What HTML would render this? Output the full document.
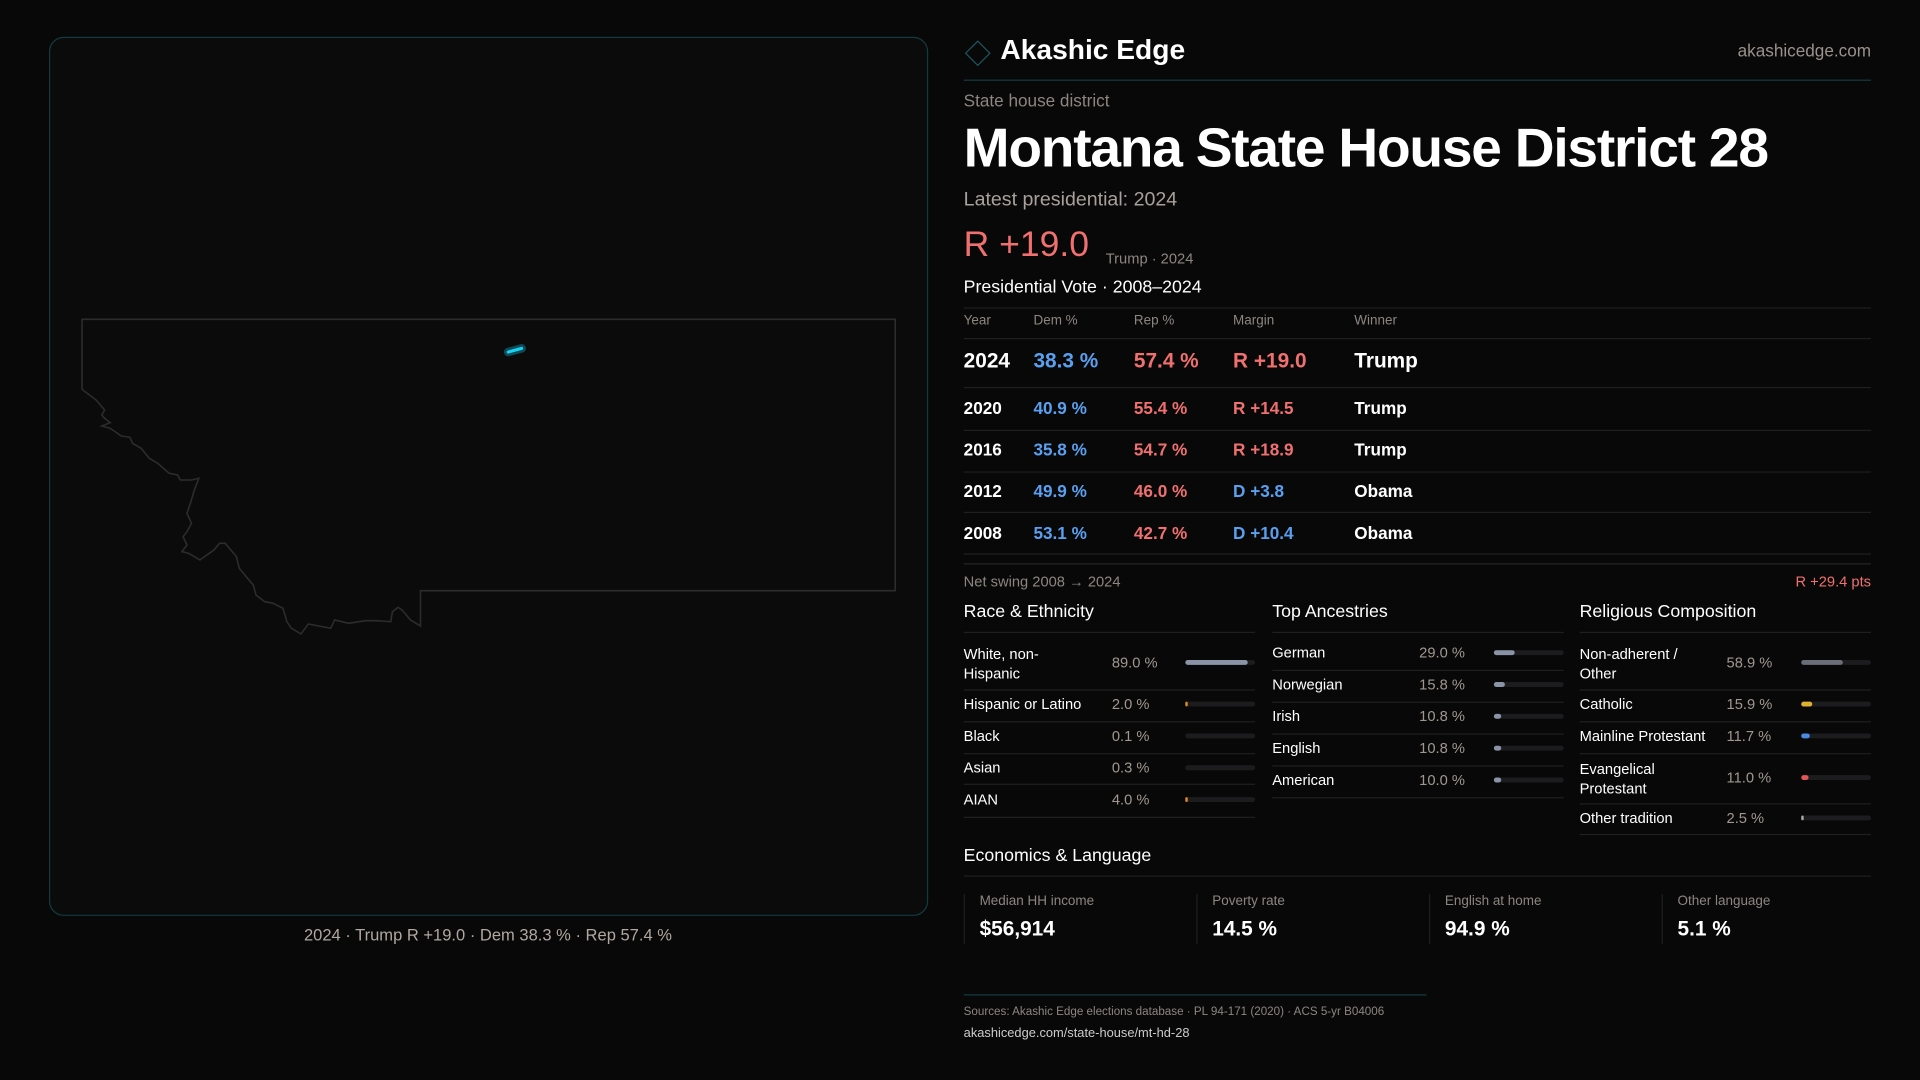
<!DOCTYPE html>
<html><head><meta charset="utf-8"><style>
html,body{margin:0;padding:0;background:#080808;width:1920px;height:1080px;overflow:hidden}
#w{position:absolute;left:0;top:0;width:1568px;height:882px;transform:scale(1.22449);transform-origin:0 0;font-family:"Liberation Sans",sans-serif;color:#eee}
.a{position:absolute;white-space:nowrap;line-height:1}
.g{color:#8d8680}
.b{color:#5aa0f0}.r{color:#f07070}
.ln{position:absolute;height:1px;background:#1f1f21}
.bar{position:absolute;height:4px;border-radius:2px;background:#1c1c1f}
.bar i{position:absolute;left:0;top:0;height:4px;border-radius:2px;display:block}
.t{font-weight:bold}
</style></head><body><div id="w">
<div style="position:absolute;left:40px;top:30px;width:716px;height:716px;border:1px solid #123a40;border-radius:12px;background:#0b0b0c"></div>
<svg style="position:absolute;left:0;top:0" width="760" height="760">
<path d="M67,260.8 L731.1,260.8 L731.1,482.4 L343.4,482.4 L343.4,511.2 L335.2,506.3 L328.3,498.1 L325.1,496 L320.5,499.5 L319.1,507.7 L307.6,506.9 L298.5,506.9 L284.7,509 L273.3,506.3 L270.1,513.1 L251.7,509.6 L245.8,517.7 L238,513.1 L234.3,507.7 L231.1,496.8 L222.9,492.7 L216,491.3 L209.1,485.9 L206.8,477.7 L202.2,472.3 L195.4,464.1 L193.1,454.6 L183.9,443.7 L179.3,443.7 L174.7,449.2 L163.3,457.3 L154.1,451.9 L148.6,450.5 L152.7,445 L149.5,438.3 L152.7,434.2 L156.4,427.4 L152.7,419.2 L155.5,411 L158.7,400.2 L162.4,390.6 L156.4,392 L147.2,392 L145,387.9 L138.1,386.5 L128.9,378.4 L122,374.3 L115.2,366.1 L108.3,362 L106,357.1 L99.1,356.1 L90,349.8 L83.1,347.9 L90,345.2 L85.4,341.6 L83.1,338.9 L85.4,334.8 L78.5,326.7 L67,318 Z" fill="none" stroke="#2c2c2e" stroke-width="1.3"/>
<line x1="415" y1="287.5" x2="426" y2="284.5" stroke="#0e4a55" stroke-width="7" stroke-linecap="round"/>
<line x1="415" y1="287.5" x2="426" y2="284.5" stroke="#18d0f0" stroke-width="2.5" stroke-linecap="round"/>
</svg>
<div class="a" style="left:0;width:797px;text-align:center;top:757px;font-size:13.5px;color:#b0a8a0">2024 · Trump R +19.0 · Dem 38.3 % · Rep 57.4 %</div>

<div style="position:absolute;left:791px;top:36px;width:13px;height:13px;border:1.5px solid #1d5560;transform:rotate(45deg)"></div>
<div class="a" style="left:817px;top:29px;font-size:23px;font-weight:bold;color:#fff">Akashic Edge</div>
<div class="a g" style="right:40px;top:34px;font-size:14px;color:#9a918a">akashicedge.com</div>
<div class="ln" style="left:787px;width:741px;top:65px;background:#153a40"></div>
<div class="a g" style="left:787px;top:75px;font-size:14px">State house district</div>
<div class="a" style="left:787px;top:98px;font-size:45px;font-weight:bold;color:#fff;letter-spacing:-1px">Montana State House District 28</div>
<div class="a" style="left:787px;top:156px;font-size:16px;color:#a8a09a">Latest presidential: 2024</div>
<div class="a r" style="left:787px;top:186px;font-size:29px">R +19.0</div>
<div class="a g" style="left:903px;top:205px;font-size:12px">Trump · 2024</div>
<div class="a" style="left:787px;top:228px;font-size:14.5px;color:#fff">Presidential Vote · 2008–2024</div>
<div class="ln" style="left:787px;width:741px;top:251px"></div>
<div class="a g" style="left:787px;top:257px;font-size:11px">Year</div>
<div class="a g" style="left:844px;top:257px;font-size:11px">Dem %</div>
<div class="a g" style="left:926px;top:257px;font-size:11px">Rep %</div>
<div class="a g" style="left:1007px;top:257px;font-size:11px">Margin</div>
<div class="a g" style="left:1106px;top:257px;font-size:11px">Winner</div>
<div class="ln" style="left:787px;width:741px;top:276px"></div>
<div class="a t" style="left:787px;top:286px;font-size:17px;color:#fff">2024</div>
<div class="a b t" style="left:844px;top:286px;font-size:17px">38.3 %</div>
<div class="a r t" style="left:926px;top:286px;font-size:17px">57.4 %</div>
<div class="a r t" style="left:1007px;top:286px;font-size:17px">R +19.0</div>
<div class="a t" style="left:1106px;top:286px;font-size:17px;color:#fff">Trump</div>
<div class="ln" style="left:787px;width:741px;top:316px"></div>
<div class="a t" style="left:787px;top:326px;font-size:14px;color:#fff">2020</div><div class="a b t" style="left:844px;top:326px;font-size:14px">40.9 %</div><div class="a r t" style="left:926px;top:326px;font-size:14px">55.4 %</div><div class="a r t" style="left:1007px;top:326px;font-size:14px">R +14.5</div><div class="a t" style="left:1106px;top:326px;font-size:14px;color:#fff">Trump</div>
<div class="ln" style="left:787px;width:741px;top:351px"></div>
<div class="a t" style="left:787px;top:360px;font-size:14px;color:#fff">2016</div><div class="a b t" style="left:844px;top:360px;font-size:14px">35.8 %</div><div class="a r t" style="left:926px;top:360px;font-size:14px">54.7 %</div><div class="a r t" style="left:1007px;top:360px;font-size:14px">R +18.9</div><div class="a t" style="left:1106px;top:360px;font-size:14px;color:#fff">Trump</div>
<div class="ln" style="left:787px;width:741px;top:385px"></div>
<div class="a t" style="left:787px;top:394px;font-size:14px;color:#fff">2012</div><div class="a b t" style="left:844px;top:394px;font-size:14px">49.9 %</div><div class="a r t" style="left:926px;top:394px;font-size:14px">46.0 %</div><div class="a b t" style="left:1007px;top:394px;font-size:14px">D +3.8</div><div class="a t" style="left:1106px;top:394px;font-size:14px;color:#fff">Obama</div>
<div class="ln" style="left:787px;width:741px;top:418px"></div>
<div class="a t" style="left:787px;top:428px;font-size:14px;color:#fff">2008</div><div class="a b t" style="left:844px;top:428px;font-size:14px">53.1 %</div><div class="a r t" style="left:926px;top:428px;font-size:14px">42.7 %</div><div class="a b t" style="left:1007px;top:428px;font-size:14px">D +10.4</div><div class="a t" style="left:1106px;top:428px;font-size:14px;color:#fff">Obama</div>
<div class="ln" style="left:787px;width:741px;top:452px"></div>
<div class="ln" style="left:787px;width:741px;top:460px;background:#262628"></div>
<div class="a g" style="left:787px;top:469px;font-size:12px">Net swing 2008 → 2024</div>
<div class="a r" style="right:40px;top:469px;font-size:12px">R +29.4 pts</div>

<div class="a" style="left:787px;top:493px;font-size:14.5px;color:#fff">Race &amp; Ethnicity</div>
<div class="a" style="left:1039px;top:493px;font-size:14.5px;color:#fff">Top Ancestries</div>
<div class="a" style="left:1290px;top:493px;font-size:14.5px;color:#fff">Religious Composition</div>
<div class="ln" style="left:787px;width:238px;top:516px"></div>
<div class="ln" style="left:1039px;width:238px;top:516px"></div>
<div class="ln" style="left:1290px;width:238px;top:516px"></div>

<div class="a" style="left:787px;top:527px;font-size:12px;color:#fff;line-height:1.3;white-space:normal;width:110px">White, non-<br>Hispanic</div>
<div class="a g" style="left:908px;top:535px;font-size:12px;color:#a09890">89.0 %</div>
<div class="bar" style="left:968px;width:57px;top:539px"><i style="width:51px;background:#8a94a6"></i></div>
<div class="ln" style="left:787px;width:238px;top:563px"></div>
<div class="a" style="left:787px;top:569px;font-size:12px;color:#fff">Hispanic or Latino</div>
<div class="a" style="left:908px;top:569px;font-size:12px;color:#a09890">2.0 %</div>
<div class="bar" style="left:968px;width:57px;top:573px"><i style="width:1.5px;background:#e08a20"></i></div>
<div class="ln" style="left:787px;width:238px;top:589px"></div>
<div class="a" style="left:787px;top:595px;font-size:12px;color:#fff">Black</div>
<div class="a" style="left:908px;top:595px;font-size:12px;color:#a09890">0.1 %</div>
<div class="bar" style="left:968px;width:57px;top:599px"></div>
<div class="ln" style="left:787px;width:238px;top:615px"></div>
<div class="a" style="left:787px;top:621px;font-size:12px;color:#fff">Asian</div>
<div class="a" style="left:908px;top:621px;font-size:12px;color:#a09890">0.3 %</div>
<div class="bar" style="left:968px;width:57px;top:625px"></div>
<div class="ln" style="left:787px;width:238px;top:640px"></div>
<div class="a" style="left:787px;top:647px;font-size:12px;color:#fff">AIAN</div>
<div class="a" style="left:908px;top:647px;font-size:12px;color:#a09890">4.0 %</div>
<div class="bar" style="left:968px;width:57px;top:651px"><i style="width:2px;background:#e08a20"></i></div>
<div class="ln" style="left:787px;width:238px;top:667px"></div>

<div class="a" style="left:1039px;top:527px;font-size:12px;color:#fff">German</div>
<div class="a" style="left:1159px;top:527px;font-size:12px;color:#a09890">29.0 %</div>
<div class="bar" style="left:1220px;width:57px;top:531px"><i style="width:16.5px;background:#8a94a6"></i></div>
<div class="ln" style="left:1039px;width:238px;top:547px"></div>
<div class="a" style="left:1039px;top:553px;font-size:12px;color:#fff">Norwegian</div>
<div class="a" style="left:1159px;top:553px;font-size:12px;color:#a09890">15.8 %</div>
<div class="bar" style="left:1220px;width:57px;top:557px"><i style="width:9px;background:#8a94a6"></i></div>
<div class="ln" style="left:1039px;width:238px;top:573px"></div>
<div class="a" style="left:1039px;top:579px;font-size:12px;color:#fff">Irish</div>
<div class="a" style="left:1159px;top:579px;font-size:12px;color:#a09890">10.8 %</div>
<div class="bar" style="left:1220px;width:57px;top:583px"><i style="width:6px;background:#8a94a6"></i></div>
<div class="ln" style="left:1039px;width:238px;top:599px"></div>
<div class="a" style="left:1039px;top:605px;font-size:12px;color:#fff">English</div>
<div class="a" style="left:1159px;top:605px;font-size:12px;color:#a09890">10.8 %</div>
<div class="bar" style="left:1220px;width:57px;top:609px"><i style="width:6px;background:#8a94a6"></i></div>
<div class="ln" style="left:1039px;width:238px;top:625px"></div>
<div class="a" style="left:1039px;top:631px;font-size:12px;color:#fff">American</div>
<div class="a" style="left:1159px;top:631px;font-size:12px;color:#a09890">10.0 %</div>
<div class="bar" style="left:1220px;width:57px;top:635px"><i style="width:5.7px;background:#8a94a6"></i></div>
<div class="ln" style="left:1039px;width:238px;top:651px"></div>

<div class="a" style="left:1290px;top:527px;font-size:12px;color:#fff;line-height:1.3">Non-adherent /<br>Other</div>
<div class="a" style="left:1410px;top:535px;font-size:12px;color:#a09890">58.9 %</div>
<div class="bar" style="left:1471px;width:57px;top:539px"><i style="width:33.5px;background:#6a6e78"></i></div>
<div class="ln" style="left:1290px;width:238px;top:563px"></div>
<div class="a" style="left:1290px;top:569px;font-size:12px;color:#fff">Catholic</div>
<div class="a" style="left:1410px;top:569px;font-size:12px;color:#a09890">15.9 %</div>
<div class="bar" style="left:1471px;width:57px;top:573px"><i style="width:9px;background:#e0b030"></i></div>
<div class="ln" style="left:1290px;width:238px;top:589px"></div>
<div class="a" style="left:1290px;top:595px;font-size:12px;color:#fff">Mainline Protestant</div>
<div class="a" style="left:1410px;top:595px;font-size:12px;color:#a09890">11.7 %</div>
<div class="bar" style="left:1471px;width:57px;top:599px"><i style="width:6.7px;background:#4a8ae0"></i></div>
<div class="ln" style="left:1290px;width:238px;top:615px"></div>
<div class="a" style="left:1290px;top:621px;font-size:12px;color:#fff;line-height:1.3">Evangelical<br>Protestant</div>
<div class="a" style="left:1410px;top:629px;font-size:12px;color:#a09890">11.0 %</div>
<div class="bar" style="left:1471px;width:57px;top:633px"><i style="width:6.3px;background:#e05555"></i></div>
<div class="ln" style="left:1290px;width:238px;top:656px"></div>
<div class="a" style="left:1290px;top:662px;font-size:12px;color:#fff">Other tradition</div>
<div class="a" style="left:1410px;top:662px;font-size:12px;color:#a09890">2.5 %</div>
<div class="bar" style="left:1471px;width:57px;top:666px"><i style="width:1.5px;background:#aaa"></i></div>
<div class="ln" style="left:1290px;width:238px;top:681px"></div>

<div class="a" style="left:787px;top:692px;font-size:14.5px;color:#fff">Economics &amp; Language</div>
<div class="ln" style="left:787px;width:741px;top:715px"></div>
<div style="position:absolute;left:787px;top:730px;width:1px;height:41px;background:#1f1f21"></div>
<div style="position:absolute;left:977px;top:730px;width:1px;height:41px;background:#1f1f21"></div>
<div style="position:absolute;left:1167px;top:730px;width:1px;height:41px;background:#1f1f21"></div>
<div style="position:absolute;left:1357px;top:730px;width:1px;height:41px;background:#1f1f21"></div>
<div class="a g" style="left:800px;top:731px;font-size:11px">Median HH income</div>
<div class="a" style="left:800px;top:750px;font-size:17px;font-weight:bold;color:#fff">$56,914</div>
<div class="a g" style="left:990px;top:731px;font-size:11px">Poverty rate</div>
<div class="a" style="left:990px;top:750px;font-size:17px;font-weight:bold;color:#fff">14.5 %</div>
<div class="a g" style="left:1180px;top:731px;font-size:11px">English at home</div>
<div class="a" style="left:1180px;top:750px;font-size:17px;font-weight:bold;color:#fff">94.9 %</div>
<div class="a g" style="left:1370px;top:731px;font-size:11px">Other language</div>
<div class="a" style="left:1370px;top:750px;font-size:17px;font-weight:bold;color:#fff">5.1 %</div>

<div class="ln" style="left:787px;width:378px;top:812px;background:#153a40"></div>
<div class="a g" style="left:787px;top:822px;font-size:9.5px">Sources: Akashic Edge elections database · PL 94-171 (2020) · ACS 5-yr B04006</div>
<div class="a" style="left:787px;top:839px;font-size:10.5px;color:#ccc">akashicedge.com/state-house/mt-hd-28</div>
</div></body></html>
